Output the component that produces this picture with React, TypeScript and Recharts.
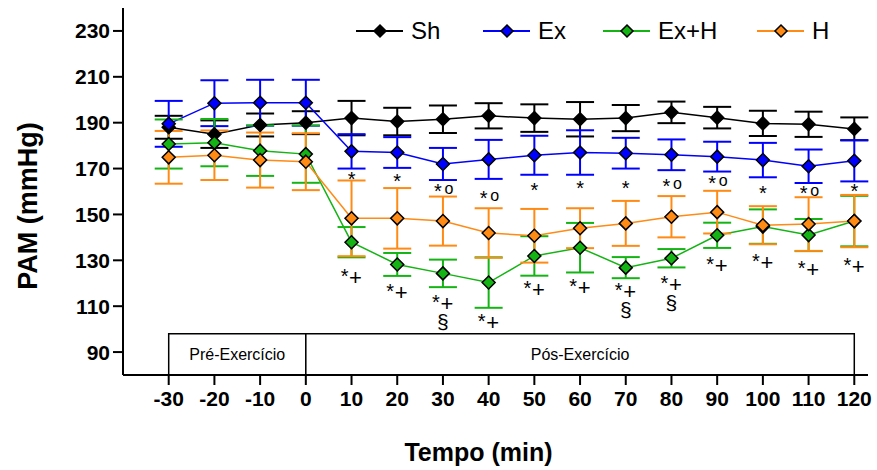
import React from 'react';
import { ComposedChart, Line, XAxis, YAxis, ErrorBar, ReferenceArea, Label } from 'recharts';

// tempo (min)
const times = [-30, -20, -10, 0, 10, 20, 30, 40, 50, 60, 70, 80, 90, 100, 110, 120];

// PAM (mmHg), mean and error
const sh = [188, 185, 189, 190, 192, 190.5, 191.5, 193, 192, 191.5, 192, 194.5, 192.2, 189.7, 189.3, 187.3];
const shErr = [5, 6, 5, 5, 7.5, 6, 6, 5.5, 6, 7.5, 5.7, 4.7, 4.7, 5.5, 5.5, 5];
const ex = [189.5, 198.5, 198.7, 198.7, 177.5, 177, 172, 174, 175.8, 177, 176.7, 176, 175.2, 173.7, 171, 173.4];
const exErr = [10, 10, 10, 10, 7.5, 6.7, 7, 8.5, 8.5, 9.7, 6.7, 6.7, 6.5, 7.5, 7.3, 9];
const exh = [180.7, 181.3, 177.8, 176.3, 137.9, 128.2, 124.3, 120.3, 131.9, 135.5, 126.8, 130.9, 140.9, 144.7, 141, 147.1];
const exhErr = [10.7, 10.3, 11, 12.5, 6.6, 5, 6, 11, 8.6, 10.8, 4.6, 4, 5.5, 7.5, 7, 11];
const h = [174.9, 175.8, 173.7, 173, 148.3, 148.3, 147.1, 141.9, 140.7, 144, 146.1, 149, 151, 145.3, 145.8, 147.1];
const hErr = [11.5, 10.8, 12, 12.4, 16.5, 13.2, 10.7, 10.8, 11.7, 8.7, 9.8, 9, 9.3, 8.3, 11.7, 11.4];

// significance marks (post-exercise points, 10..120)
const exMarkY = [167.2, 166.5, 161.8, 158.9, 162.3, 163.1, 163.1, 164.1, 165.5, 161, 161, 162.1];
const exCircle = [false, false, true, true, false, false, false, true, true, false, true, false];
const exhMarkY = [125, 118.5, 113.5, 105.3, 119.7, 120.7, 118.8, 121.7, 130.1, 131.6, 128.3, 129.7];
const exhSection = [false, false, true, false, false, false, true, true, false, false, false, false];

const xTicks = [-30, -20, -10, 0, 10, 20, 30, 40, 50, 60, 70, 80, 90, 100, 110, 120];
const yTicks = [90, 110, 130, 150, 170, 190, 210, 230];

const BLACK = '#000000';
const BLUE = '#0000ff';
const GREEN = '#14b414';
const ORANGE = '#ff8a14';
const FONT = 'Arial, "Liberation Sans", sans-serif';

const rows = times.map((t, i) => ({
  t,
  sh: sh[i], shErr: shErr[i],
  ex: ex[i], exErr: exErr[i],
  exh: exh[i], exhErr: exhErr[i],
  h: h[i], hErr: hErr[i],
  exMark: i >= 4 ? exMarkY[i - 4] : null,
  exCircle: i >= 4 ? exCircle[i - 4] : false,
  exhMark: i >= 4 ? exhMarkY[i - 4] : null,
  exhSection: i >= 4 ? exhSection[i - 4] : false,
}));

const diamond = (fill: string) => (props: any) => {
  const { cx, cy, index } = props;
  if (cx == null || cy == null) return <g key={index} />;
  return (
    <polygon
      key={index}
      points={`${cx},${cy - 6.5} ${cx + 6.5},${cy} ${cx},${cy + 6.5} ${cx - 6.5},${cy}`}
      fill={fill}
      stroke="#000"
      strokeWidth={1.5}
    />
  );
};

const exMarkDot = (props: any) => {
  const { cx, cy, index, payload } = props;
  if (cx == null || cy == null || payload.exMark == null) return <g key={index} />;
  return (
    <g key={index} fontFamily={FONT} fill="#000">
      <text x={payload.exCircle ? cx - 5 : cx} y={cy + 11} fontSize={20} textAnchor="middle">*</text>
      {payload.exCircle && (
        <text x={cx + 6} y={cy + 7} fontSize={16} textAnchor="middle">o</text>
      )}
    </g>
  );
};

const exhMarkDot = (props: any) => {
  const { cx, cy, index, payload } = props;
  if (cx == null || cy == null || payload.exhMark == null) return <g key={index} />;
  return (
    <g key={index} fontFamily={FONT} fill="#000">
      <text x={cx - 7} y={cy + 11} fontSize={20} textAnchor="middle">*</text>
      <text x={cx + 4} y={cy + 13} fontSize={22} textAnchor="middle">+</text>
      {payload.exhSection && (
        <text x={cx} y={cy + 31} fontSize={21} textAnchor="middle">§</text>
      )}
    </g>
  );
};

const legendItems = [
  { name: 'Sh', color: BLACK, x: 356 },
  { name: 'Ex', color: BLUE, x: 483 },
  { name: 'Ex+H', color: GREEN, x: 603 },
  { name: 'H', color: ORANGE, x: 757 },
];

const ChartLegend = () => (
  <svg width={877} height={50} style={{ position: 'absolute', left: 0, top: 0 }}>
    {legendItems.map((it) => (
      <g key={it.name}>
        <line x1={it.x} y1={31} x2={it.x + 47} y2={31} stroke={it.color} strokeWidth={2} />
        <polygon
          points={`${it.x + 24},${25} ${it.x + 30},${31} ${it.x + 24},${37} ${it.x + 18},${31}`}
          fill={it.color}
          stroke="#000"
          strokeWidth={1.5}
        />
        <text x={it.x + 55} y={39} fontSize={24} fontFamily={FONT} fill="#000">{it.name}</text>
      </g>
    ))}
  </svg>
);

const App = () => {
  return (
    <div style={{ position: 'absolute', left: 0, top: 0, width: 877, height: 470 }}>
      <ComposedChart width={877} height={470} data={rows} margin={{ top: 8, right: 9, bottom: 35, left: 0 }}>
        <XAxis
          type="number"
          dataKey="t"
          domain={[-40, 123]}
          ticks={xTicks}
          allowDataOverflow
          stroke="#000"
          strokeWidth={2}
          tickSize={10}
          tickMargin={6}
          height={60}
          tick={{ fill: '#000', fontSize: 21, fontWeight: 'bold', fontFamily: FONT }}
        >
          <Label
            content={({ viewBox }: any) => (
              <text
                x={viewBox.x + viewBox.width / 2 - 17}
                y={461}
                textAnchor="middle"
                fontSize={25}
                fontWeight="bold"
                fontFamily={FONT}
                fill="#000"
              >
                Tempo (min)
              </text>
            )}
          />
        </XAxis>
        <YAxis
          type="number"
          domain={[80, 240]}
          ticks={yTicks}
          allowDataOverflow
          width={123}
          stroke="#000"
          strokeWidth={2}
          tickSize={10}
          tickMargin={3}
          tick={{ fill: '#000', fontSize: 21, fontWeight: 'bold', fontFamily: FONT }}
        >
          <Label
            content={() => (
              <text
                x={0}
                y={0}
                transform="translate(37,206) rotate(-90)"
                textAnchor="middle"
                fontSize={27}
                fontWeight="bold"
                fontFamily={FONT}
                fill="#000"
              >
                PAM (mmHg)
              </text>
            )}
          />
        </YAxis>

        <ReferenceArea x1={-30} x2={0} y1={80} y2={98} fill="#fff" fillOpacity={1} stroke="#000" strokeWidth={1.5}>
          <Label value="Pré-Exercício" position="center" fontSize={16} fontFamily={FONT} fill="#000" />
        </ReferenceArea>
        <ReferenceArea x1={0} x2={120} y1={80} y2={98} fill="#fff" fillOpacity={1} stroke="#000" strokeWidth={1.5}>
          <Label value="Pós-Exercício" position="center" fontSize={16} fontFamily={FONT} fill="#000" />
        </ReferenceArea>

        <Line dataKey="sh" stroke={BLACK} strokeWidth={1.5} dot={diamond(BLACK)} activeDot={false} isAnimationActive={false}>
          <ErrorBar dataKey="shErr" width={14} stroke={BLACK} strokeWidth={2} />
        </Line>
        <Line dataKey="ex" stroke={BLUE} strokeWidth={1.5} dot={diamond(BLUE)} activeDot={false} isAnimationActive={false}>
          <ErrorBar dataKey="exErr" width={14} stroke={BLUE} strokeWidth={2} />
        </Line>
        <Line dataKey="exh" stroke={GREEN} strokeWidth={1.5} dot={diamond(GREEN)} activeDot={false} isAnimationActive={false}>
          <ErrorBar dataKey="exhErr" width={14} stroke={GREEN} strokeWidth={2} />
        </Line>
        <Line dataKey="h" stroke={ORANGE} strokeWidth={1.5} dot={diamond(ORANGE)} activeDot={false} isAnimationActive={false}>
          <ErrorBar dataKey="hErr" width={14} stroke={ORANGE} strokeWidth={2} />
        </Line>

        <Line dataKey="exMark" stroke="none" dot={exMarkDot} activeDot={false} legendType="none" isAnimationActive={false} />
        <Line dataKey="exhMark" stroke="none" dot={exhMarkDot} activeDot={false} legendType="none" isAnimationActive={false} />
      </ComposedChart>
      <ChartLegend />
    </div>
  );
};

export default App;
